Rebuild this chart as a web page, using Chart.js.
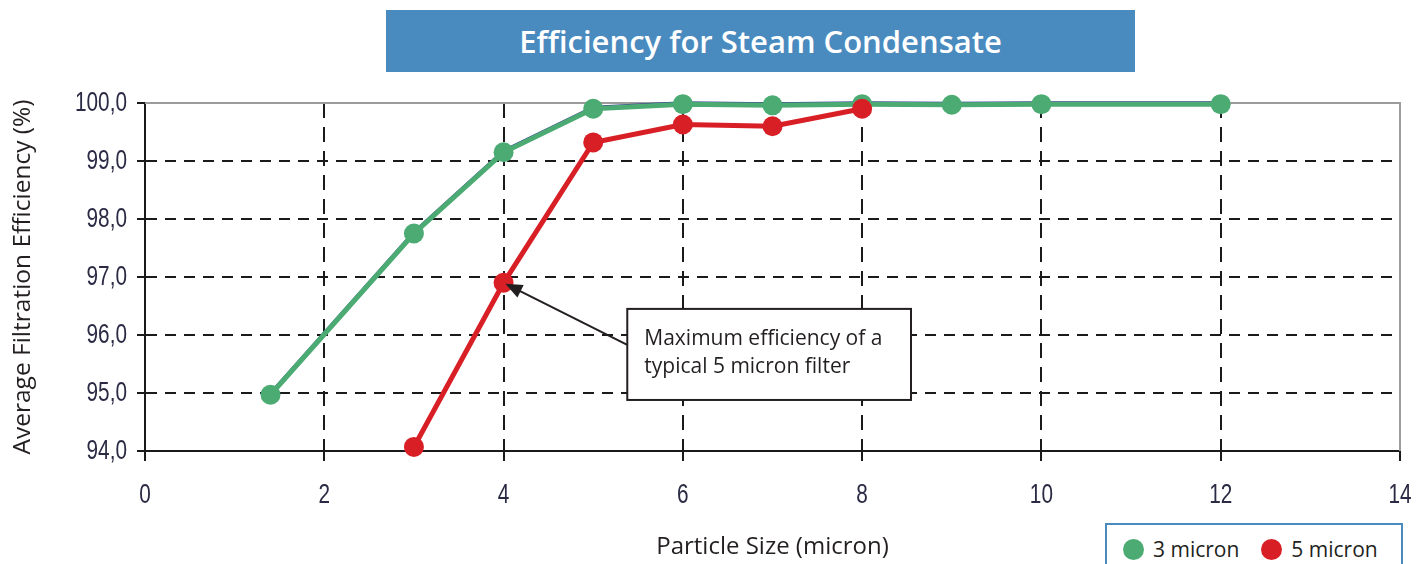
<!DOCTYPE html>
<html lang="en">
<head>
<meta charset="UTF-8">
<title>Efficiency for Steam Condensate</title>
<script src="https://cdn.jsdelivr.net/npm/chart.js"></script>
<style>
  body {
    margin: 0;
    background: #fff;
    font-family: 'Open Sans', sans-serif;
  }
  .wrap {
    position: relative;
    width: 1427px;
    height: 564px;
    overflow: hidden;
  }
  canvas {
    position: absolute;
    left: 0;
    top: 0;
  }
  .title {
    position: absolute;
    left: 386px;
    top: 10px;
    width: 749px;
    height: 62px;
    background: #4a8bbf;
    color: #fff;
    font-size: 31px;
    font-weight: 600;
    line-height: 62px;
    text-align: center;
  }
  .legend {
    position: absolute;
    left: 1105px;
    top: 523px;
    width: 298px;
    height: 60px;
    border: 2px solid #4a8bbf;
    background: #fff;
    display: flex;
    align-items: flex-start;
    padding-top: 10px;
    box-sizing: border-box;
    font-size: 21px;
    color: #231f20;
  }
  .legend span.item {
    display: flex;
    align-items: center;
    margin-left: 16px;
    line-height: 28px;
  }
  .legend span.item + span.item {
    margin-left: 22px;
  }
  .legend i {
    display: inline-block;
    width: 21px;
    height: 21px;
    border-radius: 50%;
    margin-right: 9px;
  }
</style>
</head>
<body>
<div class="wrap">
  <canvas id="chart" width="1427" height="564"></canvas>
  <div class="title">Efficiency for Steam Condensate</div>
  <div class="legend">
    <span class="item"><i style="background:#4bab73"></i>3 micron</span>
    <span class="item"><i style="background:#d91f26"></i>5 micron</span>
  </div>
</div>

<script>
  // values
  const sizes3 = [1.4, 3, 4, 5, 6, 7, 8, 9, 10, 12];
  const eff3 = [94.97, 97.75, 99.15, 99.9, 99.98, 99.96, 99.98, 99.97, 99.98, 99.98];
  const sizes5 = [3, 4, 5, 6, 7, 8];
  const eff5 = [94.07, 96.9, 99.32, 99.63, 99.6, 99.9];
  const xTicks = [0, 2, 4, 6, 8, 10, 12, 14];
  const yTicks = [94, 95, 96, 97, 98, 99, 100];
  const noteText = ['Maximum efficiency of a', 'typical 5 micron filter'];

  const GREEN = '#4bab73';
  const RED = '#d91f26';
  const INK = '#231f20';
  const LINE = '#1a1a1a';

  const toPoints = (xs, ys) => xs.map((v, i) => ({ x: v, y: ys[i] }));
  const fmtY = v => v.toFixed(1).replace('.', ',');

  // grey frame on top and right of the plot area
  const framePlugin = {
    id: 'frame',
    beforeDatasetsDraw(chart) {
      const { ctx, chartArea: a } = chart;
      ctx.save();
      ctx.strokeStyle = '#9c9c9c';
      ctx.lineWidth = 2;
      ctx.beginPath();
      ctx.moveTo(a.left, a.top);
      ctx.lineTo(a.right, a.top);
      ctx.lineTo(a.right, a.bottom);
      ctx.stroke();
      ctx.restore();
    }
  };

  // the navy excel line peeking out above the green one
  const ghostPlugin = {
    id: 'ghost',
    beforeDatasetDraw(chart, args) {
      if (args.index === 0) {
        chart.ctx.save();
        chart.ctx.translate(0, -1.5);
      }
    },
    afterDatasetDraw(chart, args) {
      if (args.index === 0) chart.ctx.restore();
    }
  };

  // tick labels in a narrow face (squeezed Liberation Sans)
  const narrowTicks = {
    id: 'narrowTicks',
    afterDraw(chart) {
      const { ctx, scales: { x, y } } = chart;
      ctx.save();
      ctx.fillStyle = '#2a2a44';
      ctx.font = "27px 'Liberation Sans', sans-serif";
      ctx.textBaseline = 'middle';
      y.ticks.forEach(t => {
        ctx.save();
        ctx.translate(y.right - 18, y.getPixelForValue(t.value) + 1);
        ctx.scale(0.77, 1);
        ctx.textAlign = 'right';
        ctx.fillText(fmtY(t.value), 0, 0);
        ctx.restore();
      });
      x.ticks.forEach(t => {
        ctx.save();
        ctx.translate(x.getPixelForValue(t.value), x.top + 45);
        ctx.scale(0.77, 1);
        ctx.textAlign = 'center';
        ctx.fillText(String(t.value), 0, 0);
        ctx.restore();
      });
      ctx.restore();
    }
  };

  // callout box with arrow to the 4 micron point of the 5 micron filter
  const notePlugin = {
    id: 'note',
    afterDatasetsDraw(chart) {
      const { ctx, scales: { x, y } } = chart;
      const left = x.getPixelForValue(5.38);
      const right = x.getPixelForValue(8.545);
      const top = y.getPixelForValue(96.45);
      const bottom = y.getPixelForValue(94.88);

      const sx = left, sy = y.getPixelForValue(95.83);
      const px = x.getPixelForValue(sizes5[1]), py = y.getPixelForValue(eff5[1]);
      const ang = Math.atan2(py - sy, px - sx);
      const tx = px - Math.cos(ang) * 2, ty = py - Math.sin(ang) * 2;

      ctx.save();
      ctx.strokeStyle = INK;
      ctx.fillStyle = INK;
      ctx.lineWidth = 2;
      ctx.beginPath();
      ctx.moveTo(sx, sy);
      ctx.lineTo(tx - Math.cos(ang) * 12, ty - Math.sin(ang) * 12);
      ctx.stroke();
      ctx.beginPath();
      ctx.moveTo(tx, ty);
      ctx.lineTo(tx - Math.cos(ang) * 17 + Math.sin(ang) * 7, ty - Math.sin(ang) * 17 - Math.cos(ang) * 7);
      ctx.lineTo(tx - Math.cos(ang) * 17 - Math.sin(ang) * 7, ty - Math.sin(ang) * 17 + Math.cos(ang) * 7);
      ctx.closePath();
      ctx.fill();

      ctx.fillStyle = '#fff';
      ctx.fillRect(left, top, right - left, bottom - top);
      ctx.strokeRect(left, top, right - left, bottom - top);

      ctx.fillStyle = INK;
      ctx.font = "21px 'Open Sans', sans-serif";
      ctx.textBaseline = 'alphabetic';
      noteText.forEach((line, i) => ctx.fillText(line, left + 17, top + 36 + i * 28));
      ctx.restore();
    }
  };

  new Chart(document.getElementById('chart'), {
    type: 'line',
    data: {
      datasets: [
        {
          label: '3 micron (outline)',
          data: toPoints(sizes3, eff3),
          borderColor: '#3a3a96',
          borderWidth: 3,
          pointRadius: 0,
          order: 3
        },
        {
          label: '3 micron',
          data: toPoints(sizes3, eff3),
          borderColor: GREEN,
          backgroundColor: GREEN,
          borderWidth: 5,
          pointRadius: 10,
          pointBorderWidth: 0,
          order: 2
        },
        {
          label: '5 micron',
          data: toPoints(sizes5, eff5),
          borderColor: RED,
          backgroundColor: RED,
          borderWidth: 5,
          pointRadius: 10,
          pointBorderWidth: 0,
          order: 1
        }
      ]
    },
    options: {
      responsive: false,
      animation: false,
      clip: false,
      layout: { padding: { top: 103, right: 27, left: 0, bottom: 0 } },
      plugins: {
        legend: { display: false },
        tooltip: { enabled: false }
      },
      scales: {
        x: {
          type: 'linear',
          min: 0,
          max: 14,
          afterBuildTicks: s => { s.ticks = xTicks.map(v => ({ value: v })); },
          afterFit: s => { s.height = 113; },
          ticks: { display: false },
          grid: {
            color: c => (c.tick && (c.tick.value === 14 || c.tick.value === 0)) ? 'rgba(0,0,0,0)' : LINE,
            lineWidth: 2,
            tickColor: LINE,
            tickLength: 10,
            tickWidth: 2
          },
          border: { color: LINE, width: 2, dash: [15, 9] },
          title: {
            display: true,
            text: 'Particle Size (micron)',
            color: INK,
            font: { family: "'Open Sans', sans-serif", size: 24 },
            padding: { top: 0, bottom: 2 }
          }
        },
        y: {
          min: 94,
          max: 100,
          afterBuildTicks: s => { s.ticks = yTicks.map(v => ({ value: v })); },
          afterFit: s => { s.width = 145; },
          ticks: { display: false },
          grid: {
            color: c => (c.tick && (c.tick.value === 100 || c.tick.value === 94)) ? 'rgba(0,0,0,0)' : LINE,
            lineWidth: 2,
            tickColor: LINE,
            tickLength: 8,
            tickWidth: 2
          },
          border: { color: LINE, width: 2, dash: [11, 8] },
          title: {
            display: true,
            text: 'Average Filtration Efficiency (%)',
            color: INK,
            font: { family: "'Open Sans', sans-serif", size: 24.5 },
            padding: { top: 8, bottom: 0 }
          }
        }
      }
    },
    plugins: [framePlugin, ghostPlugin, narrowTicks, notePlugin]
  });
</script>
</body>
</html>
